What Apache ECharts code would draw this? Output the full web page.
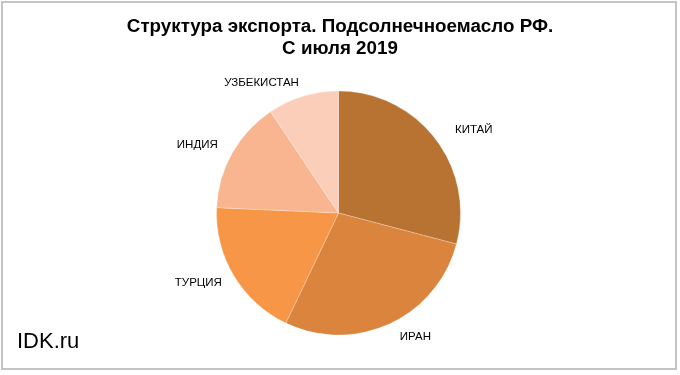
<!DOCTYPE html>
<html><head><meta charset="utf-8">
<script src="https://cdn.jsdelivr.net/npm/echarts@6/dist/echarts.min.js"></script>
<style>
html,body{margin:0;padding:0;background:#fff;}
#frame{position:absolute;left:1px;top:1px;width:672px;height:365px;border:2px solid #c4c4c4;}
#c{position:absolute;left:0;top:0;width:680px;height:375px;}
</style></head>
<body>
<div id="frame"></div>
<div id="c"></div>
<script>
const titleLines = ['Структура экспорта. Подсолнечноемасло РФ.', 'С июля 2019'];
const categories = ['КИТАЙ', 'ИРАН', 'ТУРЦИЯ', 'ИНДИЯ', 'УЗБЕКИСТАН'];
const shares = [29.1, 28.0, 18.6, 14.9, 9.4];
const colors = ['#B87333', '#DB843D', '#F79646', '#F9B590', '#FBCEB9'];
const watermark = 'IDK.ru';
// per-slice label leader settings (line hidden; only used to place the text)
const leadLen = [15, 14.5, 14, 16.5, 14];
const leadLen2 = [8, 4, 0, 0, 0];

const chart = echarts.init(document.getElementById('c'), null, {renderer: 'canvas'});
chart.setOption({
  animation: false,
  title: {
    text: titleLines.join('\n'),
    left: 'center', top: 11,
    textStyle: {fontFamily: 'Liberation Sans, Arial', fontSize: 18.8, fontWeight: 'bold', color: '#000', lineHeight: 22}
  },
  graphic: [{
    type: 'text', left: 17, top: 331,
    style: {text: watermark, font: '22px Liberation Sans, Arial', fill: '#000'}
  }],
  series: [{
    type: 'pie',
    center: [338.5, 213],
    radius: 122,
    startAngle: 90,
    clockwise: true,
    avoidLabelOverlap: false,
    data: categories.map((n, i) => ({
      name: n, value: shares[i], itemStyle: {color: colors[i]},
      labelLine: {show: false, length: leadLen[i], length2: leadLen2[i]}
    })),
    itemStyle: {borderColor: 'rgba(255,255,255,0.5)', borderWidth: 0.5},
    label: {
      show: true, position: 'outside', formatter: '{b}', distanceToLabelLine: 0,
      fontFamily: 'Liberation Sans, Arial', fontSize: 11.5, color: '#000'
    },
    labelLine: {show: false},
    emphasis: {disabled: true}
  }]
});
</script>
</body></html>
